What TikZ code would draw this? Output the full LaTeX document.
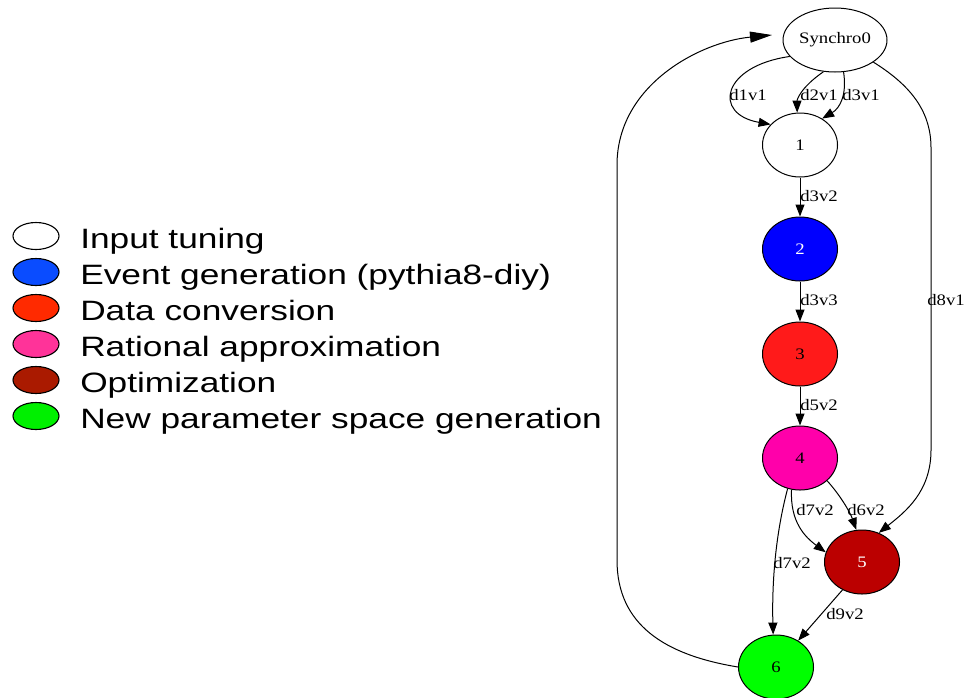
\documentclass[tikz,border=0pt]{standalone}
\usepackage{fontspec}
\setmainfont{Liberation Serif}
\newfontfamily\legendfont{Liberation Sans}
\usetikzlibrary{shapes.geometric,arrows.meta}
\definecolor{gblue}{HTML}{0000FF}
\definecolor{gred}{HTML}{FF1A1A}
\definecolor{gpink}{HTML}{FF00AA}
\definecolor{gdark}{HTML}{BB0000}
\definecolor{ggreen}{HTML}{00FF00}
\definecolor{lblue}{HTML}{0A4CFF}
\definecolor{lred}{HTML}{FF2A00}
\definecolor{lpink}{HTML}{FF3399}
\definecolor{ldark}{HTML}{AA1A00}
\definecolor{lgreen}{HTML}{00F000}
\tikzset{
  gnode/.style={ellipse, draw=black, line width=1pt, minimum width=75pt, minimum height=64pt, inner sep=0pt, font=\fontsize{16}{19}\selectfont},
  lnode/.style={ellipse, draw=black, line width=1.1pt, minimum width=46pt, minimum height=27pt, inner sep=0pt},
  ltext/.style={anchor=base west, inner sep=0pt, font=\legendfont\fontsize{28}{32}\selectfont, xscale=1.26, transform shape},
  elabel/.style={inner sep=0pt, font=\fontsize{16}{19}\selectfont, xscale=1.17, transform shape},
  edge/.style={line width=1pt, -{Triangle[length=12pt,width=9pt]}},
  bigedge/.style={line width=1pt, -{Triangle[length=22pt,width=11pt]}}
}
\begin{document}
\begin{tikzpicture}[x=1pt,y=-1pt]
\path[use as bounding box, fill=white] (0,0) rectangle (965,697);
% graph nodes
\node[gnode, minimum width=104pt, minimum height=64pt] (s) at (835,40) {\scalebox{1.17}[1]{Synchro0}};
\node[gnode] (n1) at (800,145) {\scalebox{1.17}[1]{1}};
\node[gnode, fill=gblue, text=white] (n2) at (800,249) {\scalebox{1.17}[1]{2}};
\node[gnode, fill=gred, text=black] (n3) at (800,354) {\scalebox{1.17}[1]{3}};
\node[gnode, fill=gpink] (n4) at (800,458) {\scalebox{1.17}[1]{4}};
\node[gnode, fill=gdark, text=white] (n5) at (862,562) {\scalebox{1.17}[1]{5}};
\node[gnode, fill=ggreen] (n6) at (776,667) {\scalebox{1.17}[1]{6}};
\coordinate (stip) at (772,35);
% edges
\draw[edge] (s.200) .. controls (722,66) and (712,114) .. (n1.145);
\draw[edge] (s.250) .. controls (800,88) and (797,100) .. (n1.95);
\draw[edge] (s.285) .. controls (847,95) and (840,108) .. (n1.50);
\draw[edge] (n1) -- (n2);
\draw[edge] (n2) -- (n3);
\draw[edge] (n3) -- (n4);
\draw[edge] (n4.255) .. controls (790,522) and (805,537) .. (n5.165);
\draw[edge] (n4.320) .. controls (840,495) and (850,512) .. (n5.100);
\draw[edge] (n4.248) .. controls (774,540) and (772,590) .. (n6.95);
\draw[edge] (n5.235) -- (n6.50);
\draw[edge] (s.330) .. controls (915,88) and (931,115) .. (931,148) -- (931,450) .. controls (931,492) and (905,512) .. (n5.60);
\draw[bigedge] (n6.180) .. controls (665,655) and (617,625) .. (617,560) -- (617,165) .. controls (617,85) and (700,42) .. (stip);
% edge labels
\node[elabel] (l1) at (748,95) {d1v1};
\node[elabel] (l2) at (819,95) {d2v1};
\node[elabel] (l3) at (861,95) {d3v1};
\node[elabel] (l4) at (819,196) {d3v2};
\node[elabel] (l5) at (819,300) {d3v3};
\node[elabel] (l6) at (819,405) {d5v2};
\node[elabel] (l7) at (815,510) {d7v2};
\node[elabel] (l8) at (866,510) {d6v2};
\node[elabel] (l9) at (792,563) {d7v2};
\node[elabel] (l10) at (845,614) {d9v2};
\node[elabel] (l11) at (946,300) {d8v1};
% legend
\node[lnode, fill=white] (e1) at (36,236) {};
\node[lnode, fill=lblue] (e2) at (36,272) {};
\node[lnode, fill=lred] (e3) at (36,308) {};
\node[lnode, fill=lpink] (e4) at (36,344) {};
\node[lnode, fill=ldark] (e5) at (36,380) {};
\node[lnode, fill=lgreen] (e6) at (36,416) {};
\node[ltext] (t1) at (80,248) {Input tuning};
\node[ltext] (t2) at (80,284) {Event generation (pythia8-diy)};
\node[ltext] (t3) at (80,320) {Data conversion};
\node[ltext] (t4) at (80,356) {Rational approximation};
\node[ltext] (t5) at (80,392) {Optimization};
\node[ltext] (t6) at (80,428) {New parameter space generation};
\end{tikzpicture}
\end{document}
